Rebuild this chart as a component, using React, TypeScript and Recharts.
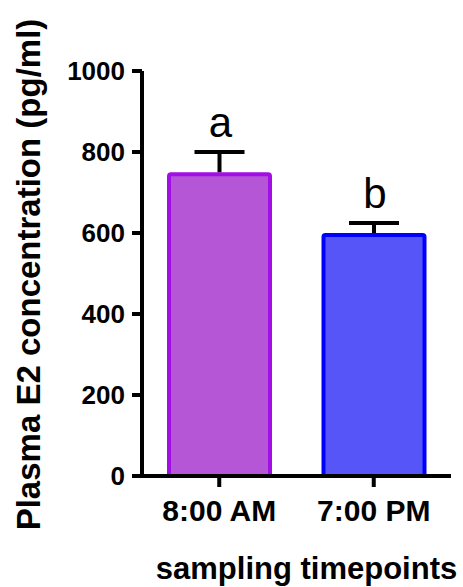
import { Bar, BarChart, XAxis, YAxis } from 'recharts';

const timepoints = ['8:00 AM', '7:00 PM'];
const meanE2 = [750, 600];
const semE2 = [50, 25];
const groupLetters = ['a', 'b'];
const yTicks = [0, 200, 400, 600, 800, 1000];

const BAR_FILLS = ['#B556D6', '#5656F8'];
const BAR_STROKES = ['#A20EE6', '#0000FF'];

const FONT = '"Liberation Sans", Arial, Helvetica, sans-serif';

const data = timepoints.map((t, i) => ({
  time: t,
  mean: meanE2[i],
  sem: semE2[i],
  letter: groupLetters[i],
}));

// bar with its own upper error bar and the significance letter above it
function BarWithError(props: any) {
  const { x, y, width, height, index, payload } = props;
  if (!height) return null;
  const sw = 4;
  const pxPerUnit = height / payload.mean;
  const capY = y - payload.sem * pxPerUnit;
  const cx = x + width / 2;
  return (
    <g>
      <rect
        x={x + sw / 2}
        y={y + sw / 2}
        width={width - sw}
        height={height - sw / 2}
        rx={2}
        fill={BAR_FILLS[index]}
        stroke={BAR_STROKES[index]}
        strokeWidth={sw}
      />
      <line x1={cx} y1={y} x2={cx} y2={capY} stroke="#000" strokeWidth={4} />
      <line x1={cx - 25} y1={capY} x2={cx + 25} y2={capY} stroke="#000" strokeWidth={4} />
      <text x={cx + 1} y={capY - 15} textAnchor="middle" fontSize={42} fontFamily={FONT} fill="#000">
        {payload.letter}
      </text>
    </g>
  );
}

export default function App() {
  return (
    <div style={{ position: 'absolute', left: 0, top: 0, width: 463, height: 587, background: '#fff', fontFamily: FONT }}>
      <BarChart width={463} height={587} data={data} margin={{ top: 71, right: 12, bottom: 0, left: 0 }} barSize={105}>
        <XAxis
          dataKey="time"
          height={111}
          axisLine={{ stroke: '#000', strokeWidth: 4 }}
          tickLine={{ stroke: '#000', strokeWidth: 4 }}
          tickSize={11}
          tickMargin={13}
          tick={{ fill: '#000', fontSize: 30, fontWeight: 'bold', fontFamily: FONT }}
          label={{
            value: 'sampling timepoints',
            position: 'insideBottom',
            offset: 8,
            dx: 10,
            fill: '#000',
            fontSize: 31,
            fontWeight: 'bold',
            fontFamily: FONT,
          }}
        />
        <YAxis
          width={142}
          domain={[0, 1000]}
          ticks={yTicks}
          interval={0}
          axisLine={{ stroke: '#000', strokeWidth: 4 }}
          tickLine={{ stroke: '#000', strokeWidth: 4 }}
          tickSize={10}
          tickMargin={7}
          tick={{ fill: '#000', fontSize: 26, fontWeight: 'bold', fontFamily: FONT }}
          label={{
            value: 'Plasma E2 concentration (pg/ml)',
            angle: -90,
            position: 'center',
            dx: -43,
            dy: 1,
            fill: '#000',
            fontSize: 33,
            fontWeight: 'bold',
            fontFamily: FONT,
          }}
        />
        <Bar dataKey="mean" shape={BarWithError} isAnimationActive={false} />
      </BarChart>
    </div>
  );
}
